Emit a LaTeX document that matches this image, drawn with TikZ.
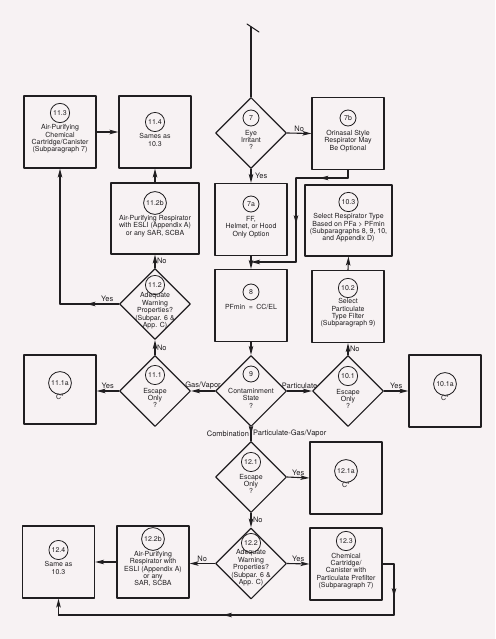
\documentclass[tikz,border=0pt]{standalone}
\usepackage{fontspec}
\setmainfont{TeX Gyre Heros}
\usetikzlibrary{shapes.geometric, arrows.meta, decorations.markings}
\definecolor{paper}{RGB}{247,242,243}
\definecolor{ink}{RGB}{32,30,32}

\begin{document}
\begin{tikzpicture}[
  x=1pt,
  y=-1pt,
  line cap=round,
  line join=round,
  flow box/.style={rectangle, draw=ink, line width=1.1pt, minimum width=72pt, minimum height=72pt, inner sep=0pt},
  flow diamond/.style={diamond, draw=ink, line width=1.1pt, minimum width=71pt, minimum height=71pt, inner sep=0pt},
  flow num/.style={circle, draw=ink, line width=0.8pt, minimum size=16pt, inner sep=1.8pt, text=ink, font=\fontsize{7}{8}\selectfont},
  flow text/.style={align=center, inner sep=0pt, text=ink, font=\fontsize{7}{7.4}\selectfont},
  flow label/.style={inner sep=1.5pt, text=ink, font=\fontsize{7.5}{8}\selectfont},
  flow line/.style={draw=ink, line width=1.1pt},
  flow arrow/.style={flow line, ->, >={Stealth[length=9pt, width=4.5pt, inset=2pt]}},
  mid arrow/.style={flow line, postaction={decorate}, decoration={markings,
    mark=at position #1 with {\arrow{Stealth[length=9pt, width=4.5pt, inset=2pt]}}}},
  mid arrow/.default=0.55
]
  % Paper and page margins.
  \fill[paper] (0,0) rectangle (495,639);

  % Decision 7 and the centre column.
  \node[flow diamond] (d7) at (251,133) {};
  \node[flow num] at (251,118) {7};
  \node[flow text] at (251,140) {Eye\\Irritant\\?};

  \node[flow box] (b7b) at (348,133.5) {};
  \node[flow num] at (348,118) {7b};
  \node[flow text] at (348,141) {Orinasal Style\\Respirator May\\Be Optional};

  \node[flow box] (b7a) at (251,219.5) {};
  \node[flow num] at (251,204) {7a};
  \node[flow text] at (251,227) {FF,\\Helmet, or Hood\\Only Option};

  \node[flow box] (b8) at (251,305.5) {};
  \node[flow num] at (251,292) {8};
  \node[flow text] at (251,307) {PFmin\enspace=\enspace CC/EL};

  \node[flow diamond] (d9) at (251,391) {};
  \node[flow num] at (251,374) {9};
  \node[flow text] at (251,398) {Contaminment\\State\\?};

  % Particulate branch on the right.
  \node[flow box, minimum width=87pt, minimum height=71pt] (b103) at (348.5,220.5) {};
  \node[flow num] at (348.5,202) {10.3};
  \node[flow text] at (348.5,228) {Select Respirator Type\\Based on PFa > PFmin\\(Subparagraphs 8, 9, 10,\\and Appendix D)};

  \node[flow box] (b102) at (348,306.5) {};
  \node[flow num] at (348,288) {10.2};
  \node[flow text] at (348,313) {Select\\Particulate\\Type Filter\\(Subparagraph 9)};

  \node[flow diamond] (d101) at (348,391) {};
  \node[flow num] at (348,376) {10.1};
  \node[flow text] at (348,399) {Escape\\Only\\?};

  \node[flow box] (b101a) at (445,391) {};
  \node[flow num] at (445,384) {10.1a};
  \node[flow text] at (445,398) {C*};

  % Gas/vapor branch on the left.
  \node[flow box] (b113) at (60,132) {};
  \node[flow num] at (60,113) {11.3};
  \node[flow text] at (60,139) {Air-Purifying\\Chemical\\Cartridge/Canister\\(Subparagraph 7)};

  \node[flow box] (b114) at (155,132) {};
  \node[flow num] at (155,122) {11.4};
  \node[flow text] at (155,140) {Sames as\\10.3};

  \node[flow box, minimum width=88pt, minimum height=71pt] (b112b) at (155,218.5) {};
  \node[flow num] at (155,203) {11.2b};
  \node[flow text] at (155,226) {Air-Purifying Respirator\\with ESLI (Appendix A)\\or any SAR, SCBA};

  \node[flow diamond] (d112) at (155,304) {};
  \node[flow num] at (155,285) {11.2};
  \node[flow text] at (155,311) {Adequate\\Warning\\Properties?\\(Subpar. 6 \&\\App. C)};

  \node[flow diamond] (d111) at (155,391) {};
  \node[flow num] at (155,375) {11.1};
  \node[flow text] at (155,398) {Escape\\Only\\?};

  \node[flow box, minimum height=69pt] (b111a) at (60,389.5) {};
  \node[flow num] at (60,383) {11.1a};
  \node[flow text] at (60,397) {C*};

  % Combination branch at the bottom.
  \node[flow diamond] (d121) at (251,477) {};
  \node[flow num] at (251,462) {12.1};
  \node[flow text] at (251,484) {Escape\\Only\\?};

  \node[flow box] (b121a) at (346,478) {};
  \node[flow num] at (346,471) {12.1a};
  \node[flow text] at (346,485) {C*};

  \node[flow diamond] (d122) at (251,563.5) {};
  \node[flow num] at (251,543) {12.2};
  \node[flow text] at (251,568) {Adequate\\Warning\\Properties?\\(Subpar. 6 \&\\App. C)};

  \node[flow box] (b123) at (346,564) {};
  \node[flow num] at (346,541) {12.3};
  \node[flow text] at (346,571) {Chemical\\Cartridge/\\Canister with\\Particulate Prefilter\\(Subparagraph 7)};

  \node[flow box] (b122b) at (153,562) {};
  \node[flow num] at (153,539) {12.2b};
  \node[flow text] at (153,569) {Air-Purifying\\Respirator with\\ESLI (Appendix A)\\or any\\SAR, SCBA};

  \node[flow box] (b124) at (58.5,562) {};
  \node[flow num] at (58.5,550) {12.4};
  \node[flow text] at (58.5,568) {Same as\\10.3};

  % Entry from the previous page of the chart.
  \coordinate (entry) at (251,27);
  \draw[flow line] (entry) -- (d7.north);
  \draw[flow line] ([shift={(-4,-3)}]entry) -- ([shift={(8,5)}]entry);

  % Eye irritant decision.
  \draw[flow arrow] (d7.east) -- node[flow label, above] {No} (b7b.west);
  \draw[flow arrow] (d7.south) -- node[flow label, right=2pt] {Yes} (b7a.north);

  % The orinasal branch rejoins the column above box 8.
  \coordinate (b7b drop) at (348,178);
  \coordinate (b7b side) at (296,178);
  \coordinate (b8 join) at (296,262);
  \coordinate (b8 entry) at (251,262);
  \draw[flow line] (b7b.south) -- (b7b drop);
  \draw[mid arrow] (b7b drop) -- (b7b side);
  \draw[mid arrow] (b7b side) -- (b8 join);
  \draw[flow arrow] (b8 join) -- (b8 entry);
  \draw[flow arrow] (b7a.south) -- (b8.north);
  \draw[flow arrow] (b8.south) -- (d9.north);

  % Particulate.
  \draw[flow arrow] (d9.east) -- node[flow label, above] {Particulate} (d101.west);
  \draw[flow arrow] (d101.north) -- node[flow label, right] {No} (b102.south);
  \draw[flow arrow] (d101.east) -- node[flow label, above] {Yes} (b101a.west);
  \draw[flow arrow] (b102.north) -- (b103.south);

  % Gas/vapor.
  \draw[flow arrow] (d9.west) -- node[flow label, above] {Gas/Vapor} (d111.east);
  \draw[flow arrow] (d111.west) -- node[flow label, above] {Yes} (d111.west -| b111a.east);
  \draw[flow arrow] (d111.north) -- node[flow label, right] {No} (d112.south);
  \draw[flow arrow] (d112.north) -- node[flow label, right] {No} (b112b.south);
  \draw[flow arrow] (b112b.north) -- (b114.south);
  \coordinate (d112 turn) at (b113.south |- d112.west);
  \draw[mid arrow] (d112.west) -- node[flow label, above, pos=0.2] {Yes} (d112 turn);
  \draw[flow arrow] (d112 turn) -- (b113.south);
  \draw[flow arrow] (b113.east) -- (b114.west);

  % Combination.
  \draw[mid arrow] (d9.south) --
    node[flow label, left] {Combination}
    node[flow label, right] {Particulate-Gas/Vapor} (d121.north);
  \draw[flow arrow] (d121.east) -- node[flow label, above] {Yes} (b121a.west);
  \draw[flow arrow] (d121.south) -- node[flow label, right] {No} (d122.north);
  \draw[flow arrow] (d122.east) -- node[flow label, above] {Yes} (b123.west);
  \draw[flow arrow] (d122.west) -- node[flow label, above] {No} (d122.west -| b122b.east);
  \draw[flow arrow] (b122b.west) -- (b124.east);

  % Return path from box 12.3 round to box 12.4.
  \coordinate (b123 out) at (394,564);
  \coordinate (b123 down) at (394,615);
  \coordinate (b124 under) at (b124.south |- b123 down);
  \draw[flow line] (b123.east) -- (b123 out);
  \draw[mid arrow=0.65] (b123 out) -- (b123 down);
  \draw[mid arrow=0.51] (b123 down) -- (b124 under);
  \draw[flow arrow] (b124 under) -- (b124.south);
\end{tikzpicture}
\end{document}
